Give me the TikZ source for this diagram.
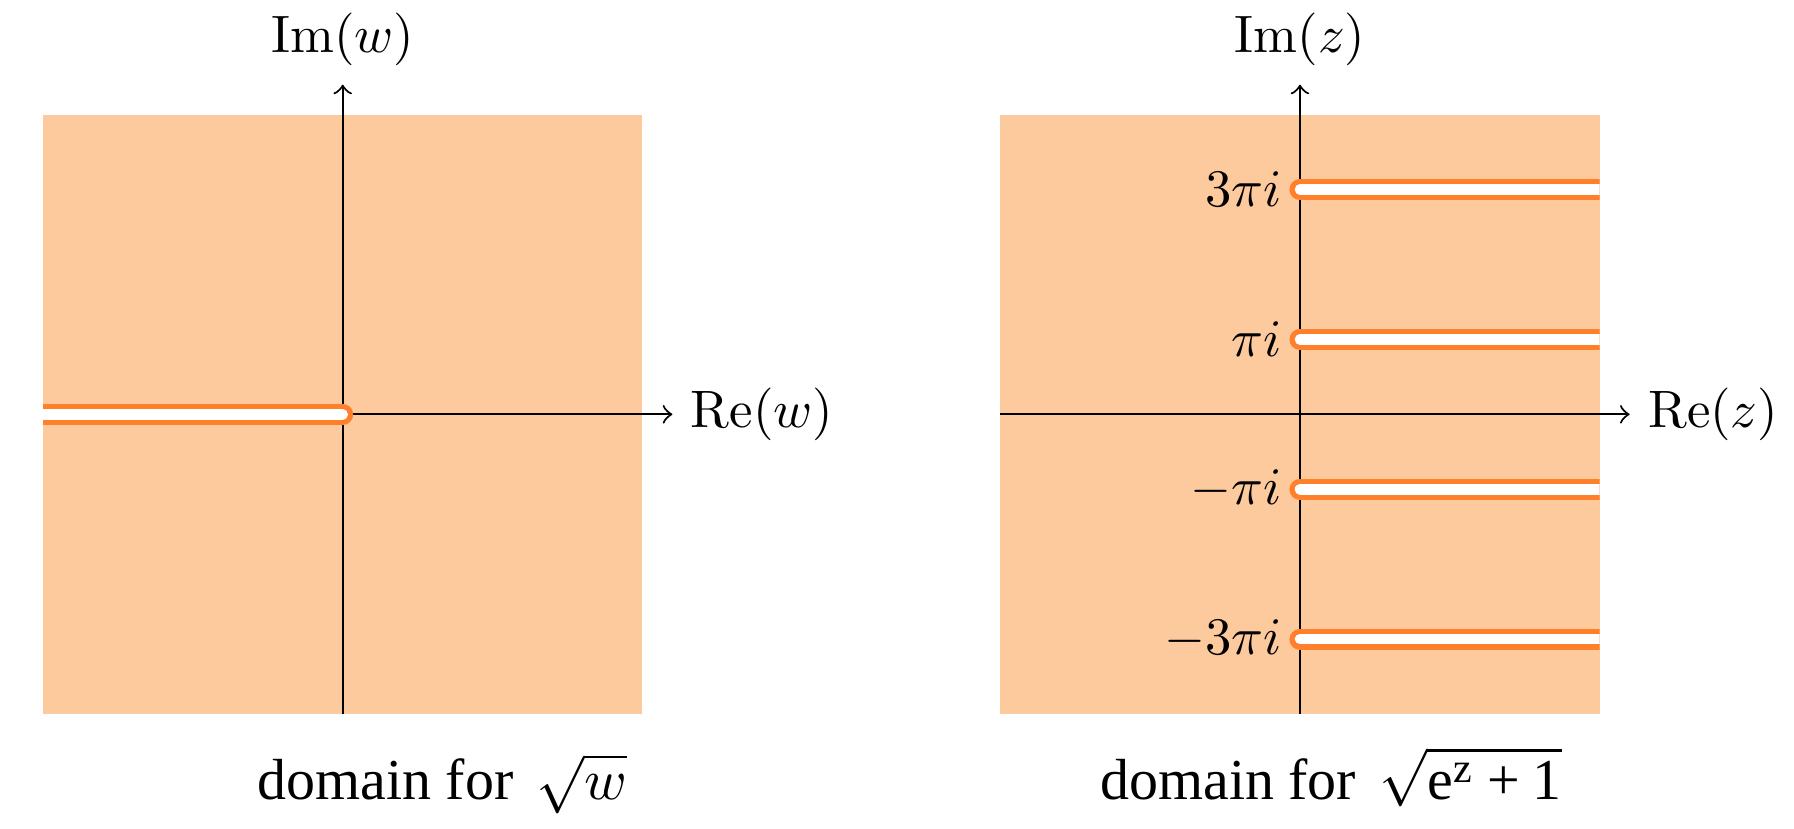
\documentclass[tikz,border=0pt]{standalone}
\usepackage{fontspec}
\newfontfamily\tmsfont{Liberation Serif}
\definecolor{peach}{RGB}{253,202,158}
\definecolor{slitorange}{RGB}{255,127,42}
\begin{document}
\begin{tikzpicture}[
  slitouter/.style={draw=slitorange, line width=4pt, line cap=round},
  slitinner/.style={draw=white, line width=2pt, line cap=round},
  axisline/.style={draw=black, ->},
  caption/.style={anchor=base, font=\tmsfont\fontsize{11}{13}\selectfont},
  ticklbl/.style={left, inner sep=3.3pt}
]
\useasboundingbox (-2.287,-2.761) rectangle (9.685,2.765);

% ---------- left panel ----------
\fill[peach] (-2,-2) rectangle (2,2);
\draw[axisline] (0,-2) -- (0,2.2) node[above] (imw) {$\mathrm{Im}(w)$};
\draw[axisline] (-2,0) -- (2.2,0) node[right] (rew) {$\mathrm{Re}(w)$};
\begin{scope}
  \clip (-2,-2) rectangle (2,2);
  \coordinate (lA) at (-2.3,0);
  \coordinate (lB) at (0,0);
  \draw[slitouter] (lA) -- (lB);
  \draw[slitinner] (lA) -- (lB);
\end{scope}
\node[caption] (capL) at (0.666,-2.57) {domain for\hspace{0.15em} $\sqrt{w}$};

% ---------- right panel ----------
\begin{scope}[xshift=6.388cm]
\fill[peach] (-2,-2) rectangle (2,2);
\draw[axisline] (0,-2) -- (0,2.2) node[above] (imz) {$\mathrm{Im}(z)$};
\draw[axisline] (-2,0) -- (2.2,0) node[right] (rez) {$\mathrm{Re}(z)$};
\begin{scope}
  \clip (-2,-2) rectangle (2,2);
  \foreach \yy/\nm in {1.5/a,0.5/b,-0.5/c,-1.5/d}{
    \coordinate (s\nm1) at (0,\yy);
    \coordinate (s\nm2) at (2.3,\yy);
    \draw[slitouter] (s\nm1) -- (s\nm2);
    \draw[slitinner] (s\nm1) -- (s\nm2);
  }
\end{scope}
\node[ticklbl] (t1) at (0,1.5) {$3\pi i$};
\node[ticklbl] (t2) at (0,0.5) {$\pi i$};
\node[ticklbl] (t3) at (0,-0.5) {$-\pi i$};
\node[ticklbl] (t4) at (0,-1.5) {$-3\pi i$};
\node[caption] (capR) at (0.207,-2.57) {domain for\hspace{0.15em} $\sqrt{\hbox{\tmsfont\fontsize{11}{13}\selectfont e}^{\hbox{\tmsfont\fontsize{8}{9}\selectfont z}}\mathbin{\hbox{\tmsfont\fontsize{11}{13}\selectfont +}}\hbox{\tmsfont\fontsize{11}{13}\selectfont 1}}$};
\end{scope}
\end{tikzpicture}
\end{document}
